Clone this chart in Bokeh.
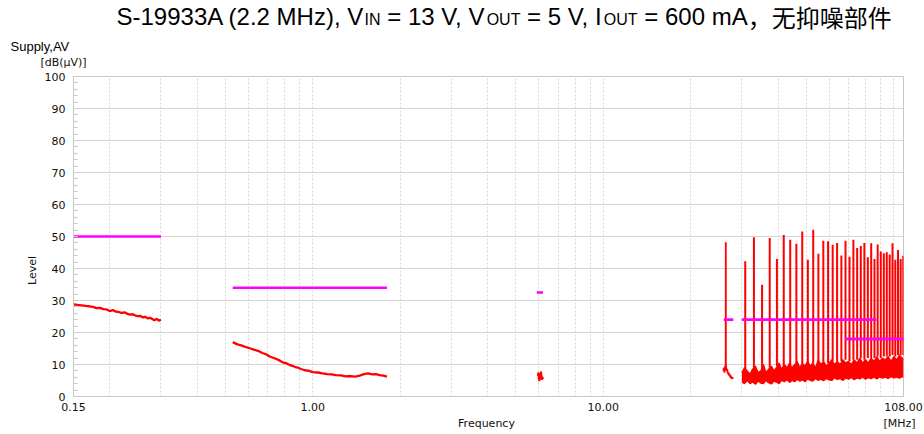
from bokeh.plotting import figure
from bokeh.layouts import column, row
from bokeh.models import Label, FixedTicker, PrintfTickFormatter, SingleIntervalTicker
from bokeh.embed import file_html
from bokeh.resources import INLINE

# ---------------- data ----------------
# measured level, 0.15-0.30 MHz band
a_freq = [0.150, 0.155, 0.160, 0.165, 0.170, 0.175, 0.180, 0.185, 0.190, 0.195, 0.200,
          0.205, 0.210, 0.215, 0.220, 0.225, 0.230, 0.235, 0.240, 0.245, 0.250, 0.255,
          0.260, 0.265, 0.270, 0.275, 0.280, 0.285, 0.290, 0.295, 0.300]
a_level = [28.8, 28.6, 28.5, 28.3, 28.2, 28.0, 27.6, 27.7, 27.3, 27.2, 26.7,
           27.0, 26.5, 26.4, 26.1, 26.3, 25.8, 25.6, 25.7, 25.3, 25.1, 25.2,
           24.7, 24.9, 24.4, 24.6, 24.2, 23.8, 24.3, 23.7, 24.0]
# 0.53-1.8 MHz band
b_freq = [0.53, 0.55, 0.57, 0.59, 0.61, 0.63, 0.65, 0.67, 0.69, 0.71, 0.73, 0.75, 0.77,
          0.79, 0.81, 0.83, 0.85, 0.87, 0.89, 0.91, 0.94, 0.97, 1.00, 1.04, 1.08, 1.12,
          1.16, 1.20, 1.25, 1.30, 1.35, 1.40, 1.45, 1.50, 1.55, 1.60, 1.65, 1.70, 1.75, 1.80]
b_level = [17.0, 16.3, 15.9, 15.4, 15.0, 14.6, 14.2, 13.6, 13.2, 12.5, 12.1, 11.7, 11.2,
           10.6, 10.4, 9.9, 9.6, 9.2, 9.0, 8.6, 8.2, 8.0, 7.6, 7.5, 7.2, 7.0,
           6.9, 6.7, 6.6, 6.3, 6.4, 6.2, 6.5, 7.0, 7.2, 6.9, 7.0, 6.7, 6.5, 6.2]
# 5.9-6.2 MHz band
c_freq = [5.95, 5.98, 6.00, 6.02, 6.04, 6.06, 6.08, 6.10, 6.12, 6.14, 6.16, 6.18, 6.20]
c_level = [6.5, 7.5, 5.5, 4.8, 6.0, 7.2, 6.0, 7.8, 6.5, 5.2, 6.2, 5.5, 6.0]
# 26-28 MHz band
d_freq = [25.9, 26.0, 26.1, 26.2, 26.3, 26.38, 26.4, 26.42, 26.5, 26.6, 26.7, 26.8, 26.9,
          27.0, 27.1, 27.2, 27.35, 27.5, 27.65, 27.8, 27.95]
d_level = [8.0, 9.0, 7.5, 8.5, 9.5, 10.0, 48.2, 10.0, 9.0, 8.0, 8.5, 7.5, 7.0,
           7.5, 6.5, 7.0, 6.0, 6.5, 5.5, 6.0, 5.5]
# 30-108 MHz band: noise floor envelope
band_freq = [30.0, 30.6, 31.3, 32.0, 32.6, 33.4, 34.1, 34.8, 35.6, 36.3,
             37.0, 37.9, 38.7, 39.4, 40.3, 41.1, 42.0, 42.9, 43.8, 44.6,
             45.6, 46.5, 47.5, 48.4, 49.5, 50.5, 51.6, 52.6, 53.8, 54.9,
             56.1, 57.3, 58.6, 59.8, 61.2, 62.5, 63.9, 65.3, 66.8, 68.3,
             69.8, 71.4, 73.0, 74.7, 76.4, 78.1, 79.9, 81.7, 83.6, 85.5,
             87.4, 89.4, 91.4, 93.5, 95.7, 97.8, 100.0, 102.3, 104.6, 107.0, 108.0]
band_high = [7.5, 9.0, 8.0, 7.0, 8.5, 9.5, 7.5, 8.0, 10.0, 7.5,
             8.5, 9.5, 8.0, 9.0, 10.5, 8.5, 10.0, 9.0, 10.5, 9.0,
             10.0, 11.0, 9.0, 10.5, 9.5, 11.0, 9.5, 10.5, 9.0, 11.5,
             10.0, 11.0, 9.5, 10.5, 11.5, 10.0, 11.0, 10.0, 11.5, 10.5,
             11.0, 10.0, 11.5, 10.5, 12.0, 10.5, 11.5, 10.5, 12.0, 11.0,
             12.5, 11.0, 12.0, 11.5, 12.5, 11.0, 12.5, 11.5, 13.0, 12.0, 11.5]
band_low = [4.5, 4.0, 5.0, 4.0, 4.5, 3.8, 4.8, 4.2, 4.0, 5.0,
            4.3, 3.9, 4.8, 4.5, 4.0, 5.0, 4.6, 5.2, 4.4, 5.0,
            4.6, 5.4, 4.8, 5.2, 4.6, 5.5, 5.0, 4.8, 5.6, 5.0,
            5.4, 4.9, 5.6, 5.2, 5.0, 5.8, 5.3, 5.6, 5.0, 5.8,
            5.4, 5.9, 5.2, 5.8, 5.5, 6.0, 5.4, 5.9, 5.6, 6.0,
            5.5, 6.1, 5.7, 6.0, 5.6, 6.2, 5.8, 6.0, 5.7, 6.2, 6.0]
# harmonics of 2.2 MHz in the 30-108 MHz band
harm_freq = [30.8, 33.0, 35.2, 37.4, 39.6, 41.8, 44.0, 46.2, 48.4, 50.6, 52.8, 55.0,
             57.2, 59.4, 61.6, 63.8, 66.0, 68.2, 70.4, 72.6, 74.8, 77.0, 79.2, 81.4,
             83.6, 85.8, 88.0, 90.2, 92.4, 94.6, 96.8, 99.0, 101.2, 103.4, 105.6, 107.8]
harm_level = [42.3, 49.8, 34.9, 49.5, 43.0, 50.5, 49.0, 47.7, 51.6, 42.7, 52.1, 44.6,
              48.7, 48.5, 47.4, 48.0, 44.1, 48.7, 43.7, 49.0, 46.4, 47.0, 48.0, 43.5,
              47.9, 43.0, 47.5, 45.3, 44.8, 45.1, 44.4, 47.9, 42.7, 45.8, 43.0, 44.0]
harm_floor = [8.0, 9.0, 8.5, 9.0, 9.5, 9.0, 10.0, 10.0, 10.5, 10.0, 10.5, 10.5,
              11.0, 10.5, 11.0, 11.0, 11.0, 11.5, 11.0, 11.5, 11.5, 12.0, 11.5, 12.0,
              12.0, 12.0, 12.5, 12.0, 12.5, 12.5, 12.5, 13.0, 12.5, 13.0, 13.0, 13.0]
# limit lines (magenta)
lim_start = [0.15, 0.53, 5.9, 26.0, 30.0, 68.0]
lim_end = [0.30, 1.8, 6.2, 28.0, 87.0, 108.0]
lim_level = [50, 34, 32.5, 24, 24, 18]

x_major = [0.15, 1.0, 10.0, 108.0]
x_minor = [0.2, 0.3, 0.4, 0.5, 0.6, 0.7, 0.8, 0.9, 2, 3, 4, 5, 6, 7, 8, 9,
           20, 30, 40, 50, 60, 70, 80, 90, 100]

title_parts = [("S-19933A (2.2 MHz), V", "big"), ("IN", "sub"), (" = 13 V, V", "big"),
               ("OUT", "sub"), (" = 5 V, I", "big"), ("OUT", "sub"), (" = 600 mA", "big"),
               ("，无抑噪部件", "cjk")]

RED = "#ff0000"
MAG = "#ff00ff"
TICK_FONT = "DejaVu Sans"
W = 924


def strip(width, height):
    s = figure(width=width, height=height, x_range=(0, 1), y_range=(0, 1),
               x_axis_location=None, y_axis_location=None, output_backend="svg",
               toolbar_location=None, min_border=0)
    s.outline_line_color = None
    s.grid.visible = False
    s.background_fill_color = "white"
    s.border_fill_color = "white"
    return s


# ---------------- main chart ----------------
p = figure(width=W - 41, height=346, x_axis_type="log", x_range=(0.15, 108), y_range=(0, 100),
           output_backend="svg", toolbar_location=None,
           min_border_left=30, min_border_right=21, min_border_top=6, min_border_bottom=20)
p.background_fill_color = "white"
p.border_fill_color = "white"
p.outline_line_color = "#c8c8c8"

p.xaxis.ticker = FixedTicker(ticks=x_major, minor_ticks=x_minor)
p.xaxis.formatter = PrintfTickFormatter(format="%.2f")
p.yaxis.ticker = SingleIntervalTicker(interval=10, num_minor_ticks=5)
for ax in (p.xaxis, p.yaxis):
    ax.axis_line_color = "#c8c8c8"
    ax.major_tick_in = 0
    ax.major_tick_out = 0
    ax.major_label_text_font = TICK_FONT
    ax.major_label_text_font_size = "11px"
    ax.major_label_text_color = "#111111"
p.xaxis.minor_tick_in = 0
p.xaxis.minor_tick_out = 0
p.xaxis.major_label_standoff = 6
p.yaxis.minor_tick_in = 4
p.yaxis.minor_tick_out = 0
p.yaxis.minor_tick_line_color = "#c8c8c8"
p.yaxis.major_label_standoff = 8

p.xgrid.grid_line_color = "#d8d8d8"
p.xgrid.grid_line_dash = "2 2"
p.xgrid.minor_grid_line_color = "#d8d8d8"
p.xgrid.minor_grid_line_dash = "2 2"
p.ygrid.grid_line_color = "#d4d4d4"

p.segment(x0=lim_start, y0=lim_level, x1=lim_end, y1=lim_level, line_color=MAG, line_width=2.5)
p.line(a_freq, a_level, line_color=RED, line_width=2.3)
p.line(b_freq, b_level, line_color=RED, line_width=2.3)
p.line(c_freq, c_level, line_color=RED, line_width=2.0)
p.line(d_freq, d_level, line_color=RED, line_width=1.8)
p.varea(x=band_freq, y1=band_low, y2=band_high, fill_color=RED)
p.line(band_freq, band_high, line_color=RED, line_width=1.2)
p.line(band_freq, band_low, line_color=RED, line_width=1.2)
p.segment(x0=harm_freq, y0=harm_floor, x1=harm_freq, y1=harm_level, line_color=RED, line_width=2.0)
p.segment(x0=lim_start[3:], y0=lim_level[3:], x1=lim_end[3:], y1=lim_level[3:], line_color=MAG, line_width=2.5)

# ---------------- text strips ----------------
ARIAL_W = {' ': 278, '(': 333, ')': 333, ',': 278, '-': 333, '.': 278, '=': 584,
           'A': 667, 'H': 722, 'I': 278, 'M': 833, 'N': 722, 'O': 778, 'S': 667,
           'T': 611, 'U': 722, 'V': 667, 'm': 833, 'z': 500}
for d in "0123456789":
    ARIAL_W[d] = 556


def text_width(s, size):
    return sum(ARIAL_W.get(ch, 1000) for ch in s) * size / 1000.0


top = strip(W, 70)
sizes = {"big": 24, "sub": 16, "cjk": 24}
ypos = {"big": 54.5, "sub": 51.0, "cjk": 54.5}
x = 116.0
for txt, kind in title_parts:
    size = sizes[kind]
    font = "Noto Sans CJK SC" if kind == "cjk" else "Liberation Sans"
    lead = len(txt) - len(txt.lstrip(" "))
    top.add_layout(Label(x=x + text_width(" " * lead, size), y=ypos[kind],
                         x_units="screen", y_units="screen", text=txt.strip(" "),
                         text_font=font, text_font_size=f"{size}px", text_color="#000000",
                         text_baseline="alphabetic", text_align="left"))
    x += text_width(txt, size)
top.add_layout(Label(x=10, y=24.5, x_units="screen", y_units="screen", text="Supply,AV",
                     text_font="Liberation Sans", text_font_size="13px", text_color="#000000",
                     text_baseline="alphabetic", text_align="left"))
top.add_layout(Label(x=63, y=8, x_units="screen", y_units="screen", text="[dB(μV)]",
                     text_font=TICK_FONT, text_font_size="11px", text_color="#111111",
                     text_baseline="middle", text_align="center"))

left = strip(41, 346)
left.add_layout(Label(x=32, y=126, x_units="screen", y_units="screen", text="Level",
                      angle=1.5708, text_font=TICK_FONT, text_font_size="11px",
                      text_color="#111111", text_baseline="middle", text_align="center"))

bottom = strip(W, 18)
bottom.add_layout(Label(x=486, y=11, x_units="screen", y_units="screen", text="Frequency",
                        text_font=TICK_FONT, text_font_size="11px", text_color="#111111",
                        text_baseline="middle", text_align="center"))
bottom.add_layout(Label(x=915, y=11, x_units="screen", y_units="screen", text="[MHz]",
                        text_font=TICK_FONT, text_font_size="11px", text_color="#111111",
                        text_baseline="middle", text_align="right"))

layout = column(top, row(left, p, spacing=0), bottom, spacing=0)
open("out.html", "w").write(file_html(layout, INLINE))
